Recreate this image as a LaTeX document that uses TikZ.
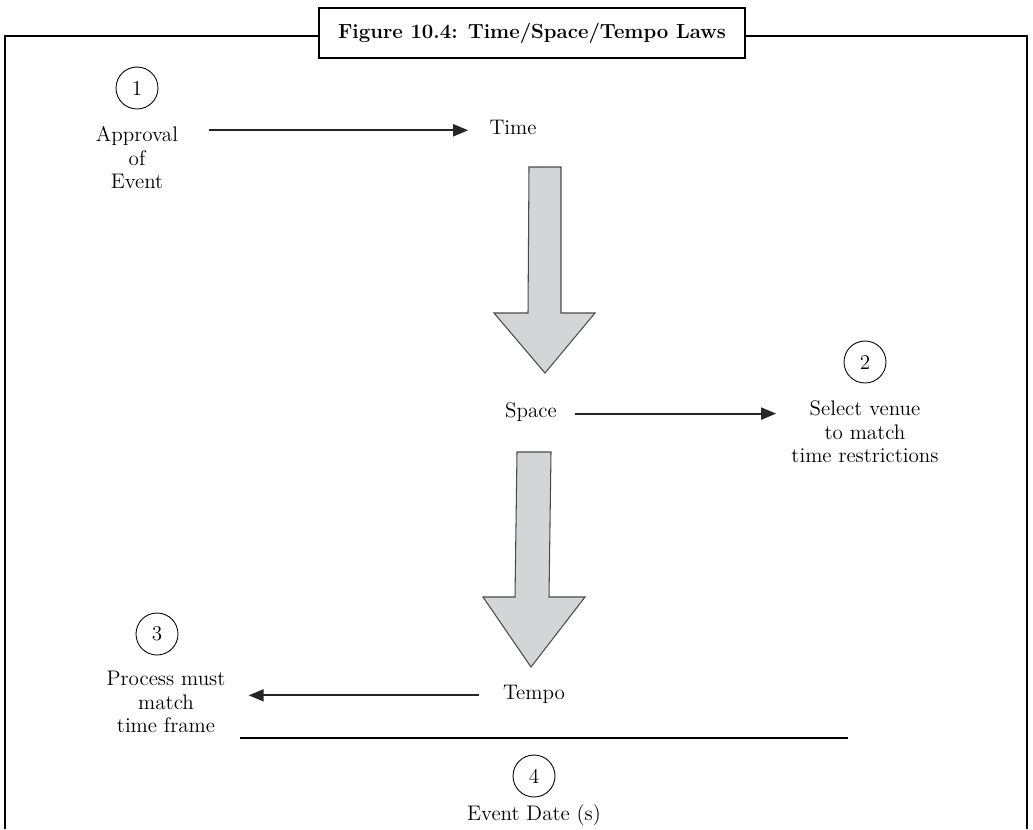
\documentclass[tikz,border=0pt]{standalone}
\usepackage{xcolor}
\usetikzlibrary{positioning,arrows.meta}
\definecolor{cfill}{HTML}{D4D5D7}
\definecolor{cedge}{HTML}{4A4A4A}
\tikzset{
  lawtext/.style={align=center, inner sep=0pt, font=\fontsize{12}{13.4}\selectfont},
  stepnum/.style={circle, draw, line width=0.5pt, minimum size=0.84cm, inner sep=0pt,
    font=\fontsize{12}{13}\selectfont},
  flowarrow/.style={-{Triangle[length=0.3cm,width=0.24cm]}, line width=1.1pt, color=black!85},
  bigarrow/.style={draw=cedge, fill=cfill, line width=0.6pt, line join=miter},
  titlebox/.style={draw, line width=1.4pt, fill=white, minimum width=8.52cm,
    minimum height=1cm, font=\bfseries\fontsize{11.6}{13}\selectfont}
}

\begin{document}
\begin{tikzpicture}[x=0.02cm, y=-0.02cm]
    \useasboundingbox (0,0) rectangle (1033,829);
    \draw[line width=1.2pt] (5,829) -- (5,36) -- (1027,36) -- (1027,829);
    \node[titlebox] (title) at (532,33) {Figure 10.4: Time/Space/Tempo Laws};

    \node[stepnum] (n1) at (137,88) {1};
    \node[lawtext] (approval) at (137,158) {Approval\\of\\Event};
    \node[lawtext] (time) at (513,127) {Time};

    \node[lawtext] (space) at (531,412) {Space};
    \node[stepnum] (n2) at (865,362) {2};
    \node[lawtext] (venue) at (865,432) {Select venue\\to match\\time restrictions};

    \node[stepnum] (n3) at (157,634) {3};
    \node[lawtext] (process) at (166,702) {Process must\\match\\time frame};
    \node[lawtext] (tempo) at (534,694) {Tempo};

    \node[stepnum] (n4) at (534,776) {4};
    \node[lawtext] (date) at (534,815) {Event Date (s)};

    % block arrows between the laws
    \draw[bigarrow] (529,167) -- (561,167) -- (561,313) -- (595,313) -- (545,373)
      -- (494,313) -- (528,313) -- cycle;
    \draw[bigarrow] (517,452) -- (551,452) -- (549,597) -- (585,597) -- (531,667)
      -- (483,597) -- (515,597) -- cycle;

    \draw[flowarrow, shorten <=0.62cm, shorten >=0.42cm] (approval.east |- time.mid west) -- (time.mid west);
    \draw[flowarrow, shorten <=0.36cm, shorten >=0.3cm] (space.mid east) -- (venue.west |- space.mid east);
    \draw[flowarrow, shorten <=0.48cm, shorten >=0.46cm] (tempo.mid west) -- (process.east |- tempo.mid west);
    \draw[line width=0.7pt] (240,738) -- (848,738);
  \end{tikzpicture}
\end{document}
